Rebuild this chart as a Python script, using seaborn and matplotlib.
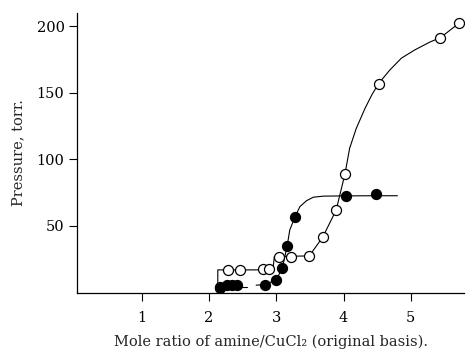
import matplotlib
matplotlib.use("Agg")
import matplotlib.pyplot as plt
import seaborn as sns

# Open-circle series (measured points)
open_x = [2.16, 2.28, 2.46, 2.80, 2.89, 3.04, 3.22, 3.49, 3.69, 3.89, 4.02, 4.52, 5.44, 5.72]
open_y = [4, 17, 17, 17.5, 17.5, 26.5, 26.5, 27.5, 41.6, 62, 89, 157, 191.5, 202.5]

# Filled-circle series (measured points)
filled_x = [2.16, 2.26, 2.34, 2.41, 2.83, 3.00, 3.09, 3.16, 3.28, 4.03, 4.48]
filled_y = [3.2, 5.3, 5.3, 5.3, 6, 9.5, 18.6, 34.6, 57, 72.7, 74]

# Hand-drawn curves
open_curve_x = [2.13, 2.13, 2.95, 2.97, 3.49, 3.69, 3.89, 4.02, 4.09, 4.19, 4.32, 4.42, 4.52,
                4.69, 4.86, 5.06, 5.28, 5.44, 5.72]
open_curve_y = [5, 17, 17, 27, 27.5, 41.6, 62, 89, 108.4, 123.5, 138.5, 148.5, 157,
                167.3, 176.1, 182.3, 188.1, 191.5, 202.5]

filled_curve_x = [2.70, 2.83, 3.00, 3.09, 3.16, 3.20, 3.28, 3.35, 3.45, 3.55, 3.70, 4.03, 4.48, 4.80]
filled_curve_y = [5.5, 6, 9.5, 18.6, 34.6, 47, 57, 64.5, 69, 71.6, 72.4, 72.6, 72.7, 72.7]

filled_stub_x = [2.41, 2.56]
filled_stub_y = [4.0, 4.0]

x_ticks = [1, 2, 3, 4, 5]
y_ticks = [50, 100, 150, 200]

sns.set_style("ticks")
plt.rcParams['font.family'] = ['DejaVu Serif', 'Liberation Serif']

fig = plt.figure(figsize=(4.67, 3.55), dpi=100)
ax = fig.add_axes([77 / 467, 1 - 292.5 / 355, 387 / 467, 279.5 / 355])

for cx, cy in [(open_curve_x, open_curve_y), (filled_curve_x, filled_curve_y),
               (filled_stub_x, filled_stub_y)]:
    sns.lineplot(x=cx, y=cy, sort=False, color='black', lw=0.8, ax=ax, estimator=None)

sns.scatterplot(x=open_x, y=open_y, marker='o', s=52, facecolor='white', edgecolor='black',
                linewidth=0.9, ax=ax, zorder=3)
sns.scatterplot(x=filled_x, y=filled_y, marker='o', s=52, color='black', edgecolor='black',
                linewidth=0.9, ax=ax, zorder=4)

ax.set_xlim(0.037, 5.79)
ax.set_ylim(0, 210)
ax.set_xticks(x_ticks)
ax.set_yticks(y_ticks)
ax.tick_params(direction='out', length=5.5, width=0.8, labelsize=10.5, colors='black')
ax.tick_params(axis='x', pad=8)
ax.tick_params(axis='y', pad=3.5)
for side in ['top', 'right']:
    ax.spines[side].set_visible(False)
for side in ['left', 'bottom']:
    ax.spines[side].set_linewidth(0.9)
    ax.spines[side].set_color('black')

ax.set_xlabel('Mole ratio of amine/CuCl\u2082 (original basis).', fontsize=10.5, labelpad=7)
ax.set_ylabel('Pressure, torr.', fontsize=10.5, labelpad=8)

fig.savefig('out.png', dpi=100)
